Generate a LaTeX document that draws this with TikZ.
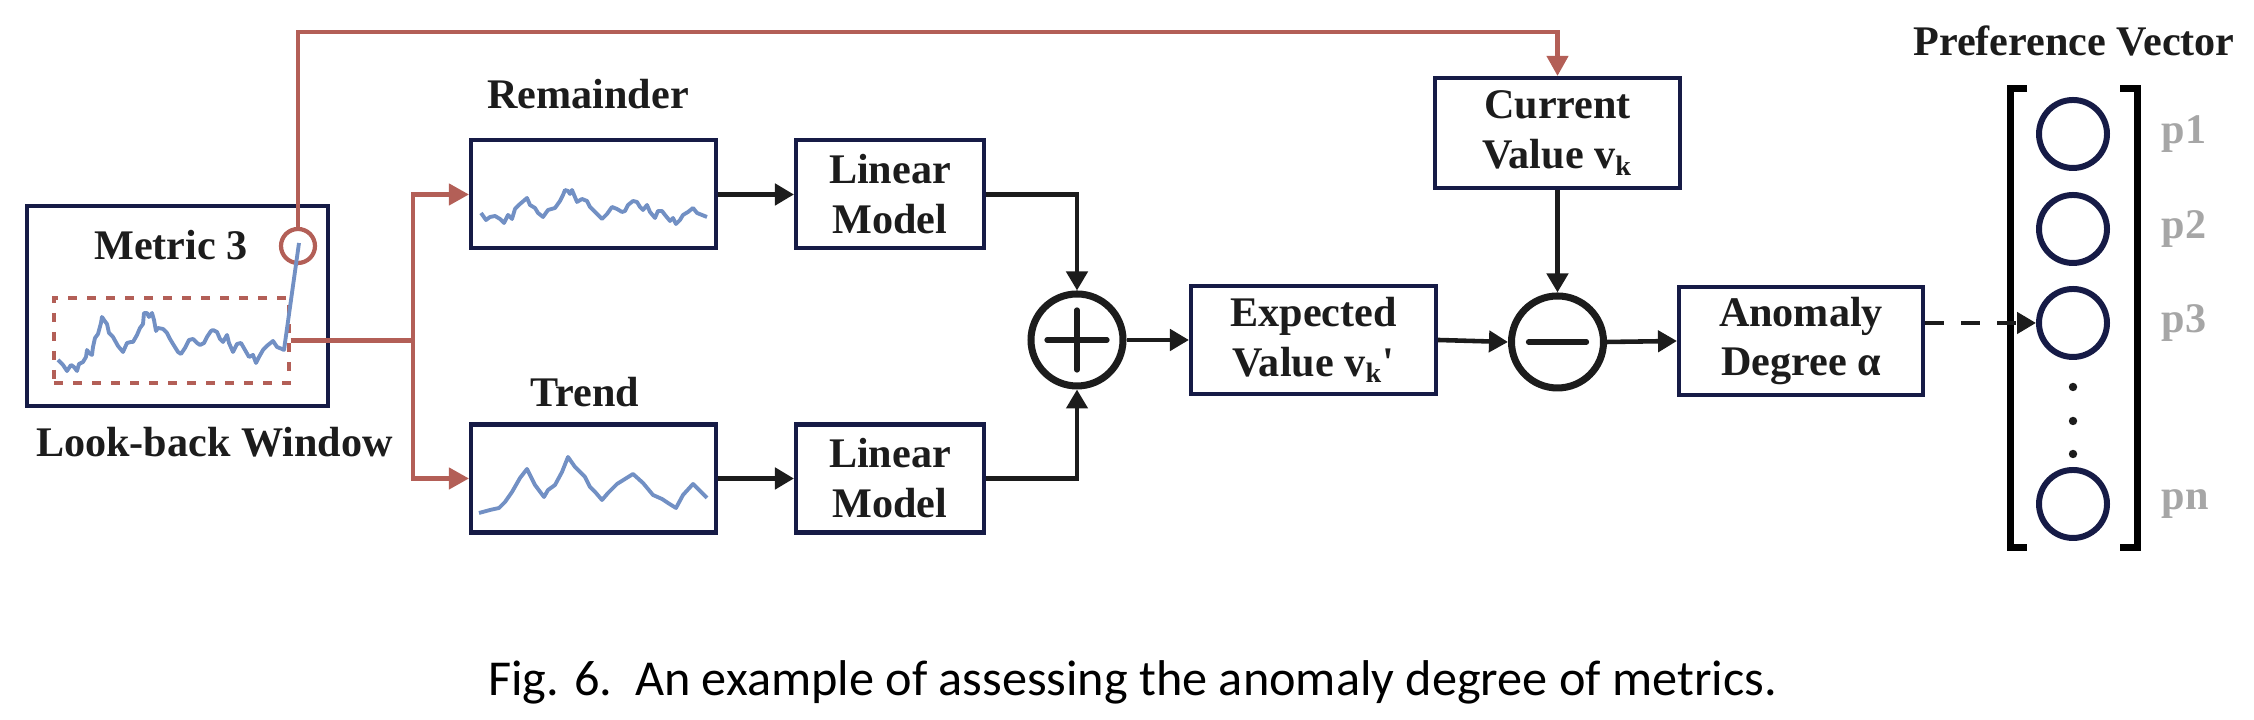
\documentclass[tikz,border=0pt]{standalone}
\usepackage{fontspec}
\setmainfont{Liberation Serif}
\newfontfamily\capfont{Carlito}
\usetikzlibrary{arrows.meta}
\definecolor{boxnavy}{RGB}{22,27,70}
\definecolor{linkred}{RGB}{179,95,87}
\definecolor{waveblue}{RGB}{114,144,196}
\definecolor{inkblack}{RGB}{28,28,28}
\definecolor{labelgrey}{RGB}{166,166,166}

\begin{document}
\begin{tikzpicture}[
            block/.style={
                draw=boxnavy,
                line width=1.15pt,
                minimum width=2.45cm,
                minimum height=1.08cm,
                inner sep=0pt,
                align=center,
                text=inkblack,
                font=\bfseries\fontsize{12}{14.2}\selectfont
            },
            title/.style={
                anchor=base,
                inner sep=0pt,
                text=inkblack,
                font=\bfseries\fontsize{12}{14.2}\selectfont
            },
            flow/.style={
                draw=inkblack,
                line width=1.3pt,
                -{Triangle[length=0.19cm, width=0.21cm]}
            },
            feed/.style={
                draw=linkred,
                line width=1.2pt,
                -{Triangle[length=0.2cm, width=0.21cm]}
            },
            wave/.style={
                draw=waveblue,
                line width=1.1pt,
                line join=round
            },
            opnode/.style={
                circle,
                draw=inkblack,
                line width=2pt,
                minimum size=0.92cm
            },
            entry/.style={
                circle,
                draw=boxnavy,
                line width=1.7pt,
                minimum size=0.68cm
            }
        ]
        \useasboundingbox (0,0) rectangle (22.54,7.20);
        \node[block, minimum width=3.01cm, minimum height=2cm] (metric) at (1.775,4.14) {};
        \node[title] (metrictitle) at (1.71,4.60) {Metric 3};
        \node[draw=linkred, dashed, dash pattern=on 0.09cm off 0.1cm, line width=0.95pt,
              minimum width=2.35cm, minimum height=0.85cm] (window) at (1.715,3.795) {};
        \node[circle, draw=linkred, line width=1.2pt, minimum size=0.34cm] (spot) at (2.98,4.74) {};
        \node[title] (lookback) at (2.145,2.63) {Look-back Window};
        \draw[wave] plot coordinates {(0.58,3.60) (0.63,3.55) (0.67,3.49) (0.71,3.55) (0.74,3.53)
            (0.77,3.49) (0.79,3.56) (0.83,3.58) (0.86,3.63) (0.87,3.70) (0.89,3.67) (0.92,3.65)
            (0.93,3.73) (0.95,3.82) (0.98,3.86) (1.01,3.97) (1.02,4.03) (1.04,4.00) (1.07,3.96)
            (1.09,3.87) (1.13,3.83) (1.18,3.74) (1.23,3.68) (1.27,3.77) (1.31,3.78) (1.33,3.78)
            (1.37,3.85) (1.40,3.92) (1.43,3.96) (1.44,4.07) (1.47,4.07) (1.49,4.03) (1.52,4.07)
            (1.54,4.00) (1.56,3.89) (1.58,3.92) (1.63,3.91) (1.67,3.87) (1.70,3.81) (1.73,3.76)
            (1.78,3.68) (1.81,3.66) (1.85,3.72) (1.89,3.80) (1.93,3.81) (1.97,3.77) (2.00,3.75)
            (2.04,3.77) (2.07,3.83) (2.11,3.89) (2.13,3.90) (2.17,3.88) (2.20,3.81) (2.23,3.78)
            (2.27,3.85) (2.29,3.77) (2.33,3.68) (2.37,3.76) (2.41,3.77) (2.45,3.70) (2.49,3.63)
            (2.53,3.65) (2.56,3.57) (2.59,3.63) (2.63,3.70) (2.68,3.75) (2.73,3.79) (2.77,3.73)
            (2.82,3.71) (2.84,3.70) (2.99,4.77)};

        \node[block] (remainder) at (5.935,5.255) {};
        \node[title] (remlabel) at (5.88,6.11) {Remainder};
        \draw[wave] plot coordinates {(4.81,5.07) (4.86,5.00) (4.90,5.03) (4.95,5.04) (5.00,5.01)
            (5.04,4.97) (5.08,5.05) (5.12,5.01) (5.15,5.11) (5.20,5.16) (5.27,5.22) (5.30,5.15)
            (5.35,5.12) (5.38,5.07) (5.43,5.03) (5.48,5.10) (5.55,5.12) (5.60,5.19) (5.63,5.25)
            (5.65,5.30) (5.68,5.29) (5.70,5.26) (5.72,5.30) (5.77,5.18) (5.82,5.21) (5.87,5.19)
            (5.90,5.13) (5.95,5.08) (6.02,5.01) (6.07,5.06) (6.12,5.13) (6.17,5.11) (6.22,5.08)
            (6.25,5.09) (6.28,5.15) (6.33,5.19) (6.37,5.18) (6.40,5.13) (6.43,5.10) (6.47,5.15)
            (6.50,5.08) (6.55,5.02) (6.58,5.09) (6.62,5.09) (6.65,5.05) (6.70,4.99) (6.73,5.02)
            (6.76,4.96) (6.80,5.00) (6.83,5.05) (6.88,5.08) (6.93,5.12) (6.97,5.07) (7.02,5.05)
            (7.07,5.03)};
        \node[block] (trend) at (5.935,2.415) {};
        \node[title] (trendlabel) at (5.85,3.13) {Trend};
        \draw[wave] plot coordinates {(4.79,2.07) (4.90,2.10) (4.99,2.12) (5.05,2.18) (5.12,2.28)
            (5.20,2.42) (5.27,2.51) (5.35,2.35) (5.44,2.23) (5.48,2.30) (5.55,2.35) (5.62,2.48)
            (5.68,2.63) (5.75,2.53) (5.85,2.43) (5.90,2.33) (5.96,2.27) (6.02,2.20) (6.08,2.27)
            (6.17,2.36) (6.25,2.41) (6.33,2.46) (6.43,2.37) (6.53,2.25) (6.62,2.21) (6.68,2.17)
            (6.76,2.12) (6.83,2.25) (6.93,2.36) (7.00,2.29) (7.07,2.22)};

        \node[block, minimum width=1.88cm] (linear1) at (8.90,5.255) {Linear\\Model};
        \node[block, minimum width=1.88cm] (linear2) at (8.90,2.415) {Linear\\Model};
        \node[opnode] (plus) at (10.77,3.80) {};
        \draw[inkblack, line width=1.5pt, line cap=round] ([xshift=-0.30cm]plus.center) -- ([xshift=0.30cm]plus.center)
            ([yshift=-0.30cm]plus.center) -- ([yshift=0.30cm]plus.center);
        \node[block] (expected) at (13.135,3.80) {Expected\\Value v\textsubscript{k}\textquotesingle};
        \node[block, minimum height=1.10cm] (current) at (15.575,5.87) {Current\\Value v\textsubscript{k}};
        \node[opnode] (minus) at (15.575,3.78) {};
        \draw[inkblack, line width=1.5pt, line cap=round] ([xshift=-0.29cm]minus.center) -- ([xshift=0.29cm]minus.center);
        \node[block, minimum width=2.44cm] (anomaly) at (18.01,3.79) {Anomaly\\Degree α};

        \node[title] (preflabel) at (20.74,6.645) {Preference Vector};
        \foreach \name/\y in {p1/5.86, p2/4.91, p3/3.97, pn/2.16} {
            \node[entry] (\name) at (20.73,\y) {};
            \node[anchor=west, inner sep=0pt, text=labelgrey, font=\bfseries\fontsize{12}{14.2}\selectfont] at (21.61,\y) {\name};
        }
        \foreach \y in {3.33, 2.99, 2.66} {
            \fill[inkblack] (20.73,\y) circle (0.042);
        }
        \draw[black, line width=2pt] (20.27,6.31) -- (20.10,6.31) -- (20.10,1.72) -- (20.27,1.72);
        \draw[black, line width=2pt] (21.20,6.31) -- (21.37,6.31) -- (21.37,1.72) -- (21.20,1.72);

        \coordinate (split) at (4.13,3.795);
        \coordinate (overhead) at (2.98,6.88);
        \draw[linkred, line width=1.2pt] (window.east) -- (split);
        \draw[feed] (split) |- (remainder.west);
        \draw[feed] (split) |- (trend.west);
        \draw[feed] (spot.north) -- (overhead) -| (current.north);
        \draw[flow] (remainder.east) -- (linear1.west);
        \draw[flow] (trend.east) -- (linear2.west);
        \draw[flow] (linear1.east) -| (plus.north);
        \draw[flow] (linear2.east) -| (plus.south);
        \draw[flow] (plus.east) -- (expected.west);
        \draw[flow] (expected.east) -- (minus.west);
        \draw[flow] (current.south) -- (minus.north);
        \draw[flow] (minus.east) -- (anomaly.west);
        \draw[flow, dashed, dash pattern=on 0.19cm off 0.17cm] (anomaly.east |- p3) -- (p3.west);

        \node[anchor=base, inner sep=0pt, font=\capfont\fontsize{14.3}{16}\selectfont] (caption) at (11.325,0.24)
            {Fig. 6.\ \ An example of assessing the anomaly degree of metrics.};
        \end{tikzpicture}
\end{document}
